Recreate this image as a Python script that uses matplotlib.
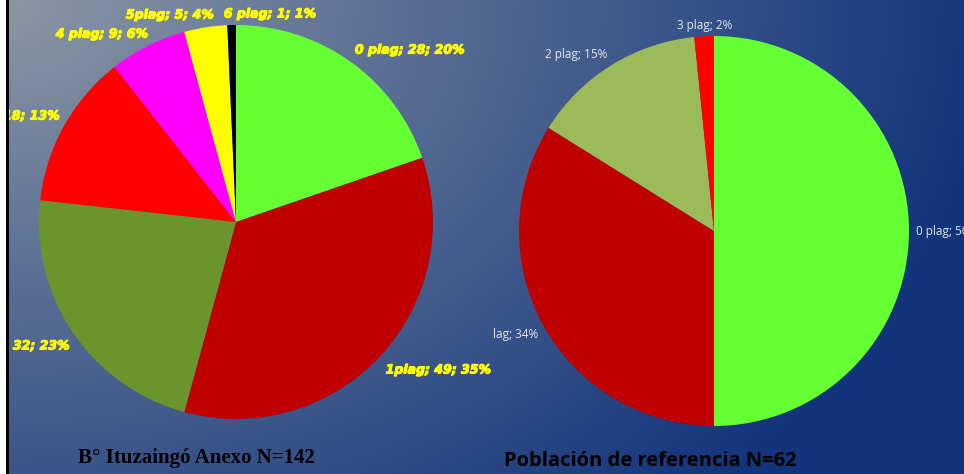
import numpy as np
import matplotlib
matplotlib.use("Agg")
import matplotlib.pyplot as plt
import matplotlib.patheffects as pe
from matplotlib.colors import to_rgb

# ---------------- data ----------------
left_labels = ["0 plag", "1plag", "2 plag", "3 plag", "4 plag", "5plag", "6 plag"]
left_values = [28, 49, 32, 18, 9, 5, 1]
left_pcts = ["20%", "35%", "23%", "13%", "6%", "4%", "1%"]
left_colors = ["#66ff33", "#c00000", "#6b942c", "#ff0000", "#ff00ff", "#ffff00", "#000000"]
left_title = "B° Ituzaingó Anexo N=142"

right_labels = ["0 plag", "1 plag", "2 plag", "3 plag"]
right_values = [31, 21, 9, 1]
right_pcts = ["50%", "34%", "15%", "2%"]
right_colors = ["#66ff33", "#c00000", "#9bbb59", "#ff0000"]
right_title = "Población de referencia N=62"

W, H = 964, 474
fig = plt.figure(figsize=(W / 100, H / 100), dpi=100)

# ---------------- background gradient ----------------
bg = fig.add_axes([0, 0, 1, 1], zorder=0)
yy, xx = np.mgrid[0:H, 0:W]
r = np.clip(np.sqrt((xx / 1000.0) ** 2 + (yy / 700.0) ** 2), 0, 1)[..., None]
c0 = np.array(to_rgb("#8b97a5"))
c1 = np.array(to_rgb("#12347c"))
img = c0 * (1 - r) + c1 * r
bg.imshow(img, extent=[0, W, H, 0], aspect="auto")
bg.set_xlim(0, W)
bg.set_ylim(H, 0)
bg.axis("off")

def px_axes(x0, y0, x1, y1, z=1):
    # pixel box (top-left origin) -> figure axes
    return fig.add_axes([x0 / W, 1 - y1 / H, (x1 - x0) / W, (y1 - y0) / H], zorder=z)

# ---------------- left pie ----------------
cxL, cyL, RL = 236, 222, 197
axL = px_axes(0, 0, 493, H, z=2)
axL.pie(left_values, colors=left_colors, startangle=90, counterclock=False,
        radius=1, wedgeprops=dict(linewidth=0))
axL.set_xlim((0 - cxL) / RL, (493 - cxL) / RL)
axL.set_ylim((cyL - H) / RL, cyL / RL)
axL.set_aspect("auto")
axL.axis("off")

left_pos = [(0.883, 0.873, "center"), (1.028, -0.751, "center"), (-0.843, -0.629, "right"),
            (-0.893, 0.538, "right"), (-0.680, 0.954, "center"), (-0.335, 1.051, "center"),
            (0.173, 1.056, "center")]
for lab, v, p, (x, y, ha) in zip(left_labels, left_values, left_pcts, left_pos):
    axL.text(x, y, f"{lab}; {v}; {p}", ha=ha, va="center", color="#ffff00",
             fontsize=9, fontweight="bold", fontstyle="italic",
             family="DejaVu Sans", clip_on=False,
             path_effects=[pe.withStroke(linewidth=0.8, foreground="#ffff00")])

# ---------------- right pie ----------------
cxR, cyR, RR = 714, 231, 195
axR = px_axes(493, 0, W, H, z=2)
axR.pie(right_values, colors=right_colors, startangle=90, counterclock=False,
        radius=1, wedgeprops=dict(linewidth=0))
axR.set_xlim((493 - cxR) / RR, (W - cxR) / RR)
axR.set_ylim((cyR - H) / RR, cyR / RR)
axR.set_aspect("auto")
axR.axis("off")

right_pos = [(1.036, 0.0, "left"), (-0.903, -0.533, "right"),
             (-0.705, 0.903, "center"), (-0.049, 1.056, "center")]
for lab, p, (x, y, ha) in zip(right_labels, right_pcts, right_pos):
    axR.text(x, y, f"{lab}; {p}", ha=ha, va="center", color="#e4e8f0",
             fontsize=8.5, family="Open Sans", clip_on=True)

# ---------------- titles ----------------
fig.text(196 / W, 1 - 458 / H, left_title, ha="center", va="center",
         fontsize=15, fontweight="bold", family="Liberation Serif", color="black",
         zorder=5)
fig.text(650 / W, 1 - 461 / H, right_title, ha="center", va="center",
         fontsize=14.5, fontweight="bold", family="Open Sans", color="black", zorder=5)

# ---------------- left border strip ----------------
ov = fig.add_axes([0, 0, 1, 1], zorder=10)
ov.set_xlim(0, W)
ov.set_ylim(H, 0)
ov.axis("off")
ov.patch.set_alpha(0)
ov.fill_between([0, 6], 0, H, color="white", linewidth=0)
ov.fill_between([6, 9], 0, H, color="black", linewidth=0)

fig.savefig("out.png", dpi=100)
